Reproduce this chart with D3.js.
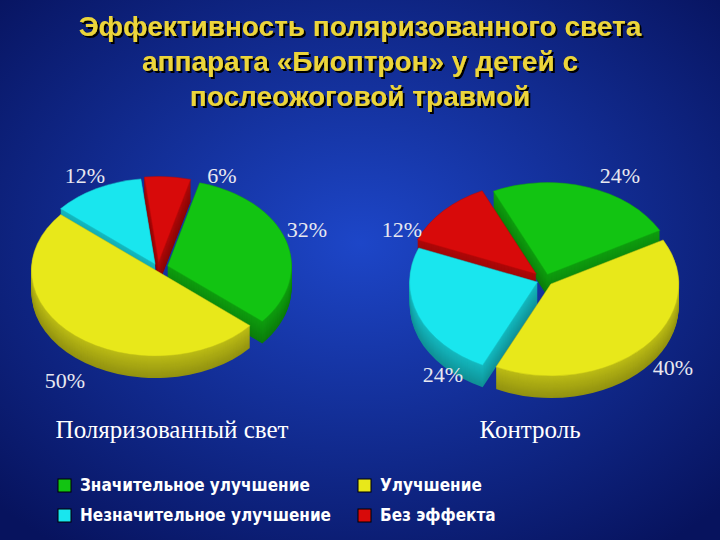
<!DOCTYPE html><html><head><meta charset="utf-8">
<script src="https://cdn.jsdelivr.net/npm/d3@7"></script>
<style>body{margin:0}svg{display:block}</style></head><body>
<script>
const categories=["Значительное улучшение","Улучшение","Незначительное улучшение","Без эффекта"];
const colors=["#12c412","#e8e81a","#19e6ee","#d80a0a"];
const polarized=[32,50,12,6];
const control=[24,40,24,12];
const pieTitles=["Поляризованный свет","Контроль"];
const W=720,H=540;
const svg=d3.select("body").append("svg").attr("width",W).attr("height",H);
const defs=svg.append("defs");
const g=defs.append("radialGradient").attr("id","bg").attr("cx","50%").attr("cy","45%").attr("r","70%");
g.append("stop").attr("offset","0%").attr("stop-color","#1d46c8");
g.append("stop").attr("offset","100%").attr("stop-color","#07135e");
svg.append("rect").attr("width",W).attr("height",H).attr("fill","url(#bg)");
const f=defs.append("filter").attr("id","sh");
f.append("feDropShadow").attr("dx",2).attr("dy",2).attr("stdDeviation",0.5).attr("flood-color","#000");
const tl=["Эффективность поляризованного света","аппарата «Биоптрон» у детей с","послеожоговой травмой"];
tl.forEach((t,i)=>svg.append("text").attr("x",W/2).attr("y",36+i*35)
 .attr("text-anchor","middle").attr("font-family","Liberation Sans, Arial").attr("font-weight","bold")
 .attr("font-size",28).attr("fill","#ecd53a").attr("filter","url(#sh)").text(t));
function pie3d(data,cx,cy,rx,ry,depth,start,explode){
 const arcs=d3.pie().sort(null).startAngle(start).endAngle(start+2*Math.PI)(data);
 const grp=svg.append("g");
 const k=ry/rx;
 const arc=d3.arc().innerRadius(0).outerRadius(rx);
 const items=arcs.map((a,i)=>{const m=(a.startAngle+a.endAngle)/2;
  return {a,i,ox:Math.sin(m)*explode[i],oy:-Math.cos(m)*explode[i]*k,m};});
 const order=items.slice().sort((p,q)=>(-Math.cos(p.m))-(-Math.cos(q.m)));
 order.forEach(it=>{
  const dark=d3.color(colors[it.i]).darker(1.3);
  for(let d=depth;d>=1;d--){
   grp.append("path").attr("d",arc(it.a))
    .attr("transform",`translate(${cx+it.ox},${cy+it.oy+d}) scale(1,${k})`)
    .attr("fill",d3.interpolateRgb(dark,d3.color(colors[it.i]).darker(0.6))(1-d/depth));
  }
 });
 order.forEach(it=>{
  grp.append("path").attr("d",arc(it.a))
   .attr("transform",`translate(${cx+it.ox},${cy+it.oy}) scale(1,${k})`)
   .attr("fill",colors[it.i]).attr("stroke",d3.color(colors[it.i]).darker(0.5)).attr("stroke-width",0.6);
 });
}
pie3d(polarized,158,268,124,86,22,15*Math.PI/180,[10,4,6,8]);
pie3d(control,545,280,128,92,22,-25*Math.PI/180,[8,8,8,12]);
const labs=[["12%",85,183],["6%",222,183],["32%",307,237],["50%",65,388],
 ["24%",620,183],["12%",402,237],["24%",443,382],["40%",673,375]];
labs.forEach(([t,x,y])=>svg.append("text").attr("x",x).attr("y",y).attr("text-anchor","middle")
 .attr("font-family","Liberation Serif, Times New Roman").attr("font-size",22).attr("fill","#e8e8f0").text(t));
[[172,pieTitles[0]],[530,pieTitles[1]]].forEach(([x,t])=>svg.append("text").attr("x",x).attr("y",438)
 .attr("text-anchor","middle").attr("font-family","Liberation Serif, Times New Roman").attr("font-size",25).attr("fill","#fff").text(t));
const lp=[[58,490],[358,490],[58,520],[358,520]];
categories.forEach((c,i)=>{
 svg.append("rect").attr("x",lp[i][0]).attr("y",lp[i][1]-11).attr("width",13).attr("height",13)
  .attr("fill",colors[i]).attr("stroke","#000").attr("stroke-width",1);
 svg.append("text").attr("x",lp[i][0]+22).attr("y",lp[i][1]+1).attr("font-family","DejaVu Sans Condensed, DejaVu Sans")
  .attr("font-weight","bold").attr("font-size",17).attr("fill","#fff").text(c);
});
</script></body></html>
